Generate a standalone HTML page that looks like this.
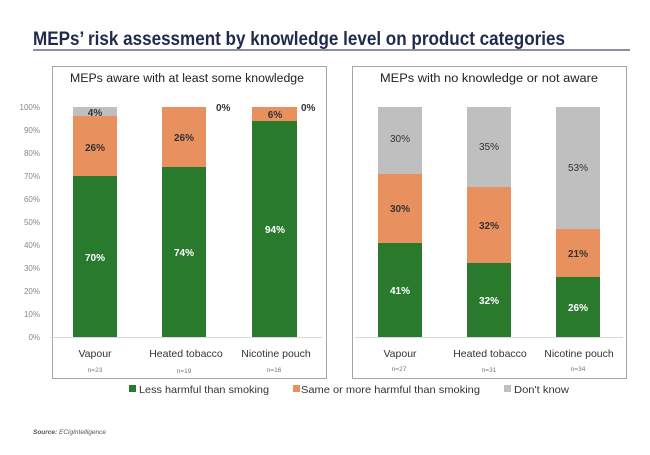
<!DOCTYPE html>
<html><head><meta charset="utf-8"><style>
body{margin:0;background:#fff;}
svg text{font-family:"Liberation Sans",sans-serif;}
</style></head><body>
<svg width="650" height="450" xmlns="http://www.w3.org/2000/svg">
<rect width="650" height="450" fill="#fff"/>
<text x="33" y="45" font-size="19" font-weight="bold" fill="#1f2a4d" textLength="532" lengthAdjust="spacingAndGlyphs">MEPs’ risk assessment by knowledge level on product categories</text>
<rect x="33" y="49" width="597" height="2" fill="#8a8fa3"/>
<rect x="52.5" y="66.5" width="274" height="312" fill="none" stroke="#a6a6a6"/>
<rect x="352.5" y="66.5" width="274" height="312" fill="none" stroke="#a6a6a6"/>
<text x="70" y="82" font-size="11.5" fill="#222" textLength="234" lengthAdjust="spacingAndGlyphs">MEPs aware with at least some knowledge</text>
<text x="380" y="82" font-size="11.5" fill="#222" textLength="218" lengthAdjust="spacingAndGlyphs">MEPs with no knowledge or not aware</text>
<g font-size="8" fill="#888" text-anchor="end">
<text x="40" y="110">100%</text><text x="40" y="133">90%</text><text x="40" y="156">80%</text><text x="40" y="179">70%</text><text x="40" y="202">60%</text><text x="40" y="225">50%</text><text x="40" y="248">40%</text><text x="40" y="271">30%</text><text x="40" y="294">20%</text><text x="40" y="317">10%</text><text x="40" y="340">0%</text>
</g>
<line x1="50" y1="337.5" x2="322" y2="337.5" stroke="#d9d9d9"/>
<line x1="355" y1="337.5" x2="623" y2="337.5" stroke="#d9d9d9"/>
<rect x="73" y="176" width="44" height="161" fill="#2a7a2e"/>
<rect x="73" y="116" width="44" height="60" fill="#e8915f"/>
<rect x="73" y="107" width="44" height="9" fill="#bfbfbf"/>
<rect x="162" y="167" width="44" height="170" fill="#2a7a2e"/>
<rect x="162" y="107" width="44" height="60" fill="#e8915f"/>
<rect x="252" y="121" width="45" height="216" fill="#2a7a2e"/>
<rect x="252" y="107" width="45" height="14" fill="#e8915f"/>
<rect x="378" y="243" width="44" height="94" fill="#2a7a2e"/>
<rect x="378" y="174" width="44" height="69" fill="#e8915f"/>
<rect x="378" y="107" width="44" height="67" fill="#bfbfbf"/>
<rect x="467" y="263" width="44" height="74" fill="#2a7a2e"/>
<rect x="467" y="187" width="44" height="76" fill="#e8915f"/>
<rect x="467" y="107" width="44" height="80" fill="#bfbfbf"/>
<rect x="556" y="277" width="44" height="60" fill="#2a7a2e"/>
<rect x="556" y="229" width="44" height="48" fill="#e8915f"/>
<rect x="556" y="107" width="44" height="122" fill="#bfbfbf"/>
<g font-size="10" font-weight="bold" text-anchor="middle" fill="#333">
<text x="95" y="116">4%</text><text x="95" y="151">26%</text>
<text x="184" y="141">26%</text><text x="216" y="111" text-anchor="start">0%</text>
<text x="275" y="118">6%</text><text x="301" y="111" text-anchor="start">0%</text>
<text x="400" y="142" font-weight="normal">30%</text><text x="400" y="212">30%</text>
<text x="489" y="150" font-weight="normal">35%</text><text x="489" y="229">32%</text>
<text x="578" y="171" font-weight="normal">53%</text><text x="578" y="257">21%</text>
</g>
<g font-size="10" font-weight="bold" text-anchor="middle" fill="#fff">
<text x="95" y="261">70%</text><text x="184" y="256">74%</text><text x="275" y="233">94%</text>
<text x="400" y="294">41%</text><text x="489" y="304">32%</text><text x="578" y="311">26%</text>
</g>
<g font-size="10.5" text-anchor="middle" fill="#333">
<text x="95" y="357">Vapour</text><text x="186" y="357">Heated tobacco</text><text x="276" y="357">Nicotine pouch</text>
<text x="400" y="357">Vapour</text><text x="490" y="357">Heated tobacco</text><text x="579" y="357">Nicotine pouch</text>
</g>
<g font-size="6.5" text-anchor="middle" fill="#777">
<text x="95" y="372">n=23</text><text x="184" y="373">n=19</text><text x="274" y="372">n=16</text>
<text x="399" y="371">n=27</text><text x="489" y="372">n=31</text><text x="578" y="371">n=34</text>
</g>
<g font-size="10.5" fill="#333">
<rect x="129" y="385" width="7" height="7" fill="#2a7a2e"/><text x="139" y="393" textLength="130" lengthAdjust="spacingAndGlyphs">Less harmful than smoking</text>
<rect x="293" y="385" width="7" height="7" fill="#e8915f"/><text x="301" y="393" textLength="179" lengthAdjust="spacingAndGlyphs">Same or more harmful than smoking</text>
<rect x="504" y="385" width="7" height="7" fill="#bfbfbf"/><text x="514" y="393" textLength="55" lengthAdjust="spacingAndGlyphs">Don't know</text>
</g>
<text x="33" y="434" font-size="6.5" font-style="italic" fill="#555"><tspan font-weight="bold">Source:</tspan>  ECigIntelligence</text>
</svg>
</body></html>
